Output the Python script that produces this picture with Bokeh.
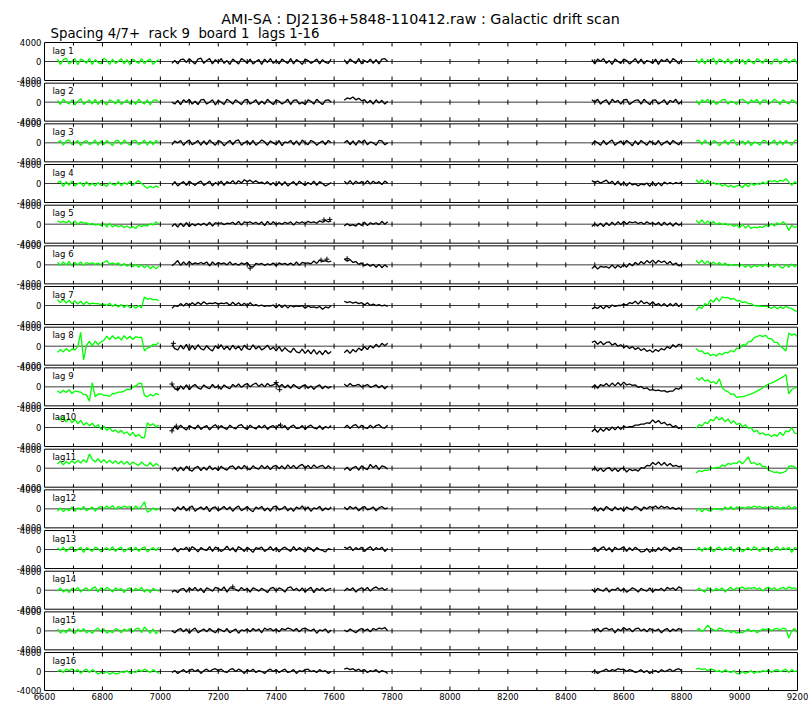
from bokeh.plotting import figure
from bokeh.models import Range1d, Label
from bokeh.core.properties import value
from bokeh.embed import file_html
from bokeh.resources import INLINE

# AMI-SA galactic drift scan, rack 9 board 1: one trace per lag.
# Samples are listed in units of 100, every 10 units along the scan axis.
SCALE = 100
STEP = 10
SEG_START = [6645, 7040, 7635, 8490, 8850]
SEG_GREEN = [True, False, False, False, True]

TITLE = "AMI-SA : DJ2136+5848-110412.raw : Galactic drift scan"
SUBTITLE = "Spacing 4/7+\u00a0 rack 9\u00a0 board 1\u00a0 lags 1-16"
X_LABEL_TICKS = [6600, 6800, 7000, 7200, 7400, 7600, 7800, 8000, 8200, 8400, 8600, 8800, 9000, 9200]
Y_LABEL_VALUES = [4000, 0, -4000]

lag1_a = [5,-6,4,7,-5,0,6,-7,5,2,-4,6,-6,4,-2,-5,7,2,-6,5,-4,0,6,-5,4,-7,5,0,-4,6,-5,2,5,-6,0,4]
lag1_b = [-4,2,-5,4,5,-2,6,0,-5,5,7,-4,2,6,-5,4,-2,6,-4,2,-6,5,0,-5,6,2,-4,5,-5,0,4,-6,5,-2,6,-4,2,-5,5,0,-4,6,-5,4,0,-6,5,2,-4,0,5,-5,4,-2,-4,5]
lag1_c = [4,-5,5,0,-4,6,-5,2,-2,5,-4,4,-5,5,6,0]
lag1_d = [4,-5,5,0,6,-4,2,-6,5,0,-4,5,2,-5,0,6,-4,5,-5,2,0,-4,5,-6,4,0,5,-4,6,2,-5,4]
lag1_e = [5,-4,6,-5,4,0,7,-6,5,2,-4,6,-5,0,5,-4,4,-6,5,0,-5,6,2,-4,5,0,-6,4,5,-5,0,6,-4,2,5,-6]

lag2_a = [4,-5,6,0,-4,5,-6,2,7,-5,0,5,-4,6,-5,4,0,-6,5,2,-4,6,-5,0,5,-4,2,-5,6,0,-4,5,-6,4,5,0]
lag2_b = [0,-4,4,-5,5,0,6,-4,2,-5,5,6,-4,0,5,-6,4,0,-5,6,2,-4,5,0,-5,4,6,-4,0,5,-5,2,-4,6,0,-5,5,2,-4,0,6,-5,4,5,-4,0,-5,5,2,-4,6,0,-5,4,5,0]
lag2_c = [4,9,7,11,5,8,3,5,-2,4,-4,5,-2,4,-4,2]
lag2_d = [5,0,6,-4,2,5,-5,6,0,4,-4,5,6,-5,0,4,5,-4,6,0,-5,4,5,-4,0,5,-5,4,0,6,-4,2]
lag2_e = [4,-5,5,0,6,-4,4,-5,0,5,6,-4,2,0,-5,5,6,2,-4,5,0,6,-5,4,5,-4,0,6,2,-5,5,0,-4,5,2,-5]

lag3_a = [0,5,-5,4,6,-4,0,5,-6,2,5,-4,0,6,-5,4,-4,5,0,-6,4,5,-4,6,0,-5,4,5,-4,0,6,-5,4,-4,5,0]
lag3_b = [-4,4,0,5,-5,2,6,-4,0,5,-5,4,-4,6,0,-5,5,2,-6,0,5,-4,4,6,-5,0,4,-4,5,-5,0,6,2,-5,4,0,-4,5,-6,2,0,5,-4,4,-5,6,0,-4,5,2,-5,0,4,-4,5,0]
lag3_c = [0,5,-4,4,-5,5,0,6,-4,2,0,-5,5,4,-4,0]
lag3_d = [-4,4,0,-5,5,-4,2,6,-5,0,4,-4,5,0,-6,4,-4,5,0,-5,4,0,-4,5,-5,0,4,-4,5,0,-4,4]
lag3_e = [4,5,-4,6,0,-5,5,2,-6,0,5,-4,4,6,-5,0,4,-4,5,-6,2,0,-5,5,4,-4,0,6,-5,4,-4,5,0,-5,4,6]

lag4_a = [2,5,-6,4,-4,5,-5,0,2,-6,4,-4,0,-5,2,-4,-2,-6,2,-2,-4,4,-5,2,-2,5,-4,2,6,0,-5,-10,-6,-9,-5,-8]
lag4_b = [-4,4,-5,0,4,-4,5,0,-4,2,5,-4,0,5,-5,2,-2,5,-4,4,0,6,-1,6,1,8,4,7,2,6,1,3,-1,4,-3,2,-5,4,-4,4,-5,0,4,-4,5,0,-4,2,-2,5,-4,4,0,-5,-2,2]
lag4_c = [5,-1,6,-2,5,0,4,-1,6,-1,5,0,4,-2,5,1]
lag4_d = [6,2,5,1,4,7,0,5,-3,5,-4,3,-5,2,-3,-1,-5,-1,-3,1,-6,3,-5,2,-5,3,-1,2,-1,2,0,3]
lag4_e = [8,1,8,0,7,-2,2,-2,0,-5,-2,-7,-4,-8,-5,-3,-9,-1,-7,1,-4,0,-2,3,-1,6,4,6,3,7,5,10,3,-4,4,-1]

lag5_a = [7,4,6,3,7,0,7,-1,5,2,3,-1,2,-2,0,-3,1,-6,2,-6,-2,-5,-3,-7,-4,-8,-5,-9,-2,-5,-2,-4,1,-2,5,0]
lag5_b = [-5,1,-6,2,-5,3,-5,1,-3,1,-2,2,-3,4,-4,3,1,3,-1,2,1,4,-1,6,-2,5,3,5,1,4,0,5,-3,6,-1,5,-1,3,0,4,1,5,-2,5,2,5,1,6,3,5,2,7,4,8,5,7]
lag5_c = [-4,1,-3,-1,-4,2,-3,4,-3,3,0,3,-1,6,0,5]
lag5_d = [-5,1,-4,2,-5,3,-3,4,-2,5,-1,6,0,5,3,5,1,4,0,5,1,3,-1,4,-3,4,-2,3,-4,3,-2,1]
lag5_e = [8,2,9,1,7,0,6,-1,3,-1,2,-2,0,-5,-1,-8,0,-8,-3,-9,-6,-8,-5,-7,-2,-5,1,-4,3,-1,5,0,-13,-2,-7,-4]

lag6_a = [5,-1,6,0,7,-2,5,0,6,-1,5,2,4,1,4,0,5,9,1,4,1,4,-2,3,-3,2,-4,1,-5,0,-6,-1,-8,-3,-8,-3]
lag6_b = [-2,3,9,-1,6,0,7,1,4,2,5,2,6,-2,6,0,5,2,4,0,6,0,3,-1,4,1,5,-3,-5,3,1,3,-1,2,0,4,-2,4,1,3,0,4,-1,6,-1,5,3,4,2,8,3,10,7,9,6,8]
lag6_c = [12,8,11,5,7,1,4,-2,2,-3,1,-5,1,-6,0,-5]
lag6_d = [-8,-2,-9,-3,-5,-4,-7,0,-7,-1,-6,1,-5,3,-2,5,0,7,2,9,4,10,3,9,5,8,2,7,0,4,-2,1]
lag6_e = [9,3,10,2,8,1,6,0,5,-1,4,-2,1,-1,0,-2,1,-5,0,-6,-1,-4,0,-4,2,-4,1,-5,2,-4,-7,1,-5,2,-4,1]

lag7_a = [12,6,13,5,11,4,10,3,9,2,8,3,5,4,4,2,3,0,5,-2,3,-3,2,-4,1,-5,0,-6,0,-5,18,13,15,12,13,10]
lag7_b = [-6,0,-2,4,-1,5,0,6,1,7,2,8,3,5,4,6,3,5,4,6,0,7,1,6,0,5,-1,6,0,2,-1,1,-2,0,-1,1,-5,2,-4,1,-5,0,-3,-1,-2,0,-6,-1,-4,-3,-5,-2,-8,-3,-5,0]
lag7_c = [9,6,8,5,7,4,6,1,6,0,3,0,2,-1,1,-2]
lag7_d = [-7,-4,-6,-1,-7,0,-5,1,-2,0,0,3,1,6,4,9,3,10,4,7,2,8,1,4,-1,4,-2,4,-1,5,-2,3]
lag7_e = [-10,-3,-6,4,1,12,7,16,9,18,16,17,13,15,10,10,6,8,4,4,0,-1,-1,-2,-2,-3,-6,-2,-7,-3,-6,-2,-5,-6,-11,-12]

lag8_a = [-13,-7,-12,-5,-11,-6,-8,-1,29,-29,2,10,0,11,3,9,12,21,14,22,15,20,13,22,15,21,14,20,18,19,-10,-4,-2,4,3,8]
lag8_b = [3,-5,-8,2,-6,4,-9,1,-7,3,-5,-8,1,-6,-10,1,-5,3,-7,0,-8,2,-6,0,-9,2,-5,-7,3,-6,0,-8,-4,2,-7,-2,-10,-1,-11,-3,-9,-13,-4,-12,-14,-6,-15,-8,-16,-7,-17,-10,-18,-9,-16,-11]
lag8_c = [-14,-8,-15,-7,-12,-4,-9,-1,-7,1,-4,4,-2,6,1,6]
lag8_d = [8,11,4,10,3,8,9,2,6,0,3,-3,1,-5,-1,-7,-3,-9,-5,-11,-8,-13,-7,-11,-5,-8,-1,-5,3,-2,4,1]
lag8_e = [-5,-11,-10,-16,-14,-20,-17,-21,-15,-18,-13,-14,-9,-12,-4,-5,3,2,9,10,18,20,23,20,23,16,16,8,8,0,-4,-10,28,23,26,20]

lag9_a = [-8,-13,-7,-12,-6,-14,-9,-10,-11,-16,-17,-30,9,-21,-15,-15,-18,-18,-20,-14,-14,-11,-11,-9,-5,-6,0,2,7,8,-18,-21,-16,-19,-14,-17]
lag9_b = [5,-4,-7,2,-5,4,-6,1,5,-2,-5,4,-1,-4,5,-2,2,-5,4,-1,-4,5,0,6,-1,4,7,0,5,8,1,6,0,7,2,4,8,0,5,-2,4,-3,5,0,-4,2,4,-3,2,-5,1,4,-4,2,-3,1]
lag9_c = [6,1,7,2,3,5,0,2,5,-1,1,4,-2,3,-4,2]
lag9_d = [-2,4,-3,5,2,7,1,8,2,9,3,10,4,6,3,4,-1,1,-4,-2,-7,-6,-8,-7,-9,-8,-11,-9,-9,-3,-5,1]
lag9_e = [19,14,20,12,15,9,11,6,17,-2,-8,-10,-16,-15,-22,-21,-21,-19,-17,-15,-12,-9,-6,-2,2,6,8,11,14,18,21,26,-15,-6,-2,-1]

lag10_a = [22,15,23,12,19,10,17,8,15,5,10,4,9,1,6,-4,3,-6,-1,-8,-5,-11,-6,-13,-9,-17,-10,-19,-14,-21,-22,10,4,8,1,5]
lag10_b = [-6,2,-4,5,-1,-5,4,0,-3,5,-4,1,4,-5,2,6,-2,4,-1,-4,5,0,-3,4,6,-1,-4,5,0,-3,4,-1,5,-4,2,4,-2,6,-1,4,-5,2,5,-2,-1,4,-4,2,5,-1,-3,4,-4,2,-1,4]
lag10_c = [-1,5,-2,4,6,-1,5,0,-2,5,-1,4,6,0,-1,5]
lag10_d = [-9,-3,-10,-2,-8,-1,-6,1,-5,2,-4,3,0,2,2,5,5,7,7,10,9,16,10,15,8,11,5,7,1,4,-2,1]
lag10_e = [-2,6,3,11,8,17,14,23,16,21,12,18,9,14,6,9,2,6,-2,0,-9,-6,-14,-11,-16,-14,-19,-15,-18,-10,-17,-7,-9,0,-12,-13]

lag11_a = [9,15,7,14,9,16,10,17,11,18,12,30,19,13,20,12,18,11,17,10,16,9,15,8,14,7,13,9,6,13,7,5,12,4,10,5]
lag11_b = [-4,2,-6,2,-5,4,-3,-6,1,4,-5,2,-4,5,-3,1,-5,4,-1,-4,3,5,-3,4,-2,6,-1,-3,5,0,-2,6,-1,5,-3,4,6,-1,5,-2,7,0,6,-1,5,8,0,6,-1,7,1,4,6,-1,5,0]
lag11_c = [-4,2,-5,1,4,-4,5,0,-3,8,1,6,-3,5,3,-2]
lag11_d = [-5,1,-6,0,-7,-1,1,-6,0,-7,-1,0,-8,-2,-5,-3,-6,1,0,6,5,12,7,13,6,12,5,10,4,6,3,5]
lag11_e = [-10,-5,-7,-4,-5,1,-1,2,1,7,4,10,8,11,10,15,9,16,24,10,12,7,10,3,4,-4,-6,-9,-8,-11,-9,-6,4,5,3,-4]

lag12_a = [-5,2,-6,0,-4,4,-5,2,-2,5,-4,0,4,-5,2,5,0,6,1,7,-1,5,2,6,3,5,-1,6,0,5,15,-7,-4,2,-3,1]
lag12_b = [0,-5,4,-2,5,-4,2,6,-5,0,4,-2,5,-6,2,4,-4,0,5,-2,4,-5,2,6,-4,0,5,-2,-6,4,0,5,-4,2,-5,4,6,-2,0,5,-4,2,-5,4,0,6,-2,4,-5,2,0,5,-4,2,-2,4]
lag12_c = [4,-2,5,0,4,-4,2,5,-2,0,4,-4,2,5,0,2]
lag12_d = [-2,4,-5,2,-4,5,0,-4,4,-2,2,-5,4,0,-2,5,2,-4,4,0,5,2,6,1,6,2,5,0,3,-1,2,-2]
lag12_e = [-5,1,-6,0,-3,-5,1,-1,0,-3,4,-1,5,-2,4,2,3,1,5,2,6,3,5,2,4,1,6,2,5,0,4,1,6,0,5,0]

lag13_a = [4,-2,5,-5,2,6,-4,0,5,-6,4,0,-4,5,2,-5,0,4,-2,6,-4,2,5,-5,0,4,-2,5,-4,2,6,-5,0,4,-2,5]
lag13_b = [-2,4,-5,2,0,5,-4,6,2,-5,4,0,-2,6,-4,5,2,-4,0,7,-2,4,-5,6,2,-4,5,0,-6,4,2,5,-4,0,6,-2,4,-5,2,5,0,-4,6,-2,4,0,-5,5,2,-4,4,0,-2,-5,2,0]
lag13_c = [5,2,6,-2,4,0,5,-4,2,6,-2,4,0,5,-4,2]
lag13_d = [0,5,-4,2,6,-2,4,-5,5,0,2,6,-4,4,-2,5,0,-5,-4,2,-6,0,-4,4,-2,5,2,-4,4,0,5,2]
lag13_e = [-2,5,-4,4,0,6,-5,2,5,-2,4,0,6,-4,2,5,-5,0,4,-2,6,2,-4,5,0,4,-5,2,6,-2,4,0,5,-6,4,2]

lag14_a = [-2,5,-4,2,-5,4,0,6,-4,2,5,-2,4,7,-4,5,0,6,2,-4,5,0,4,-5,2,5,-2,4,0,6,-4,2,-5,4,0,-2]
lag14_b = [-4,0,-5,2,4,-4,5,0,6,-2,4,-5,5,2,-2,6,4,0,7,-4,5,4,2,-2,6,0,4,-4,5,2,-2,4,0,-5,4,6,-2,5,2,-4,5,7,0,4,-2,5,-4,2,6,-5,4,0,5,-2,2,4]
lag14_c = [-2,4,0,5,-4,2,5,0,6,-2,4,7,2,5,0,4]
lag14_d = [2,-4,4,0,-2,5,-4,2,0,5,-2,4,-4,0,5,2,-4,4,0,-2,5,-4,2,0,4,-2,6,2,5,0,7,4]
lag14_e = [-2,4,0,-4,5,2,-2,4,0,5,-4,2,6,0,5,4,7,2,5,4,6,2,5,-2,4,6,2,5,0,4,6,2,7,4,5,2]

lag15_a = [4,-5,2,-4,5,0,-6,4,-2,5,-4,0,-5,2,6,-2,4,-5,0,-4,5,2,-4,4,0,5,-2,4,6,-4,8,2,-5,4,-6,0]
lag15_b = [0,-4,2,5,-2,4,-5,2,6,-4,0,4,-2,5,0,-4,4,2,-2,5,-4,0,4,-5,2,0,4,-2,5,0,4,-4,6,2,5,0,4,-2,5,2,6,4,0,5,-2,4,6,2,0,4,-5,2,0,4,-4,2]
lag15_c = [2,-2,4,0,-4,2,5,0,4,-2,5,2,6,4,7,0]
lag15_d = [4,0,5,-2,4,6,2,5,-4,4,0,7,2,5,-2,4,6,0,4,-2,5,2,0,4,-4,2,5,-2,4,0,5,2]
lag15_e = [0,5,-2,4,12,5,2,0,6,4,-2,2,-4,0,-5,-2,-4,0,4,-2,2,-4,0,4,2,5,0,4,5,2,6,4,-15,0,5,-4]

lag16_a = [0,4,-2,5,2,6,0,4,-4,2,5,-2,4,0,-5,-2,-4,0,-6,-2,-5,-4,0,-2,2,-4,0,-2,4,0,5,2,-2,4,0,-4]
lag16_b = [-2,2,-4,0,4,-2,2,5,0,4,-4,2,5,0,4,6,2,5,0,-2,4,6,0,5,2,-4,4,0,5,-2,2,0,-4,2,5,0,4,-2,2,5,-2,0,4,-4,2,0,4,5,0,2,-2,4,0,2,-4,0]
lag16_c = [5,7,4,6,2,5,0,4,-2,2,0,4,-2,2,0,-4]
lag16_d = [-2,2,-4,0,2,5,0,4,2,6,4,5,0,4,2,-2,0,4,-2,2,-4,0,2,-2,4,0,2,5,0,4,6,2]
lag16_e = [5,7,4,6,2,5,4,0,2,-2,4,0,-2,2,-4,-5,0,-4,-2,2,-4,0,-2,2,0,4,-2,2,4,0,2,5,-2,4,0,2]

# isolated samples, plotted as crosses: lag number, scan position, value (units of 100)
cross_lag = [5, 5, 6, 6, 6, 6, 8, 9, 9, 9, 9, 10, 10, 10, 14]
cross_x = [7565, 7585, 7310, 7555, 7575, 7645, 7045, 7040, 7060, 7400, 7412, 7040, 7055, 7415, 7250]
cross_val = [9, 10, -7, 10, 12, 13, 6, 6, -4, 9, -6, -7, 3, 5, 7]

lag_series = [
    [lag1_a, lag1_b, lag1_c, lag1_d, lag1_e],
    [lag2_a, lag2_b, lag2_c, lag2_d, lag2_e],
    [lag3_a, lag3_b, lag3_c, lag3_d, lag3_e],
    [lag4_a, lag4_b, lag4_c, lag4_d, lag4_e],
    [lag5_a, lag5_b, lag5_c, lag5_d, lag5_e],
    [lag6_a, lag6_b, lag6_c, lag6_d, lag6_e],
    [lag7_a, lag7_b, lag7_c, lag7_d, lag7_e],
    [lag8_a, lag8_b, lag8_c, lag8_d, lag8_e],
    [lag9_a, lag9_b, lag9_c, lag9_d, lag9_e],
    [lag10_a, lag10_b, lag10_c, lag10_d, lag10_e],
    [lag11_a, lag11_b, lag11_c, lag11_d, lag11_e],
    [lag12_a, lag12_b, lag12_c, lag12_d, lag12_e],
    [lag13_a, lag13_b, lag13_c, lag13_d, lag13_e],
    [lag14_a, lag14_b, lag14_c, lag14_d, lag14_e],
    [lag15_a, lag15_b, lag15_c, lag15_d, lag15_e],
    [lag16_a, lag16_b, lag16_c, lag16_d, lag16_e],
]
lag_names = [("lag %d" % n) if n < 10 else ("lag%d" % n) for n in range(1, len(lag_series) + 1)]

# ---- layout: the frame fills the whole page; panels, labels and headings are drawn in it ----
FONT = "DejaVu Sans"
GREEN = "#00ff00"
W, H = 808, 704
N = len(lag_series)
X0, X1 = 6600, 9200
Y_LIM = 4000
LEFT_PX = 44         # page x of the scan start
TOP_PX = 42          # page y of the top of the first panel
PANEL_PX = 38.0      # panel height in pixels
PITCH_PX = 40.67     # distance between panel centres in pixels
FRAME_W_PX = 753     # width of the scan axis in pixels
UPP = 2 * Y_LIM / PANEL_PX          # data units per pixel (vertical)
XUPP = (X1 - X0) / FRAME_W_PX       # data units per pixel (horizontal)
PITCH = int(round(PITCH_PX * UPP))
offsets = [-k * PITCH for k in range(N)]


def px_x(px):
    return X0 + (px - LEFT_PX) * XUPP


def px_y(py):
    return Y_LIM - (py - TOP_PX) * UPP


p = figure(
    frame_width=W, frame_height=H, min_border=0,
    x_range=Range1d(px_x(0), px_x(W)), y_range=Range1d(px_y(H), px_y(0)),
    output_backend="svg", toolbar_location=None,
)
p.grid.visible = False
p.axis.visible = False
p.outline_line_color = None
p.background_fill_color = "white"
p.border_fill_color = "white"

# zero lines
p.multi_line([[X0, X1] for _ in offsets], [[c, c] for c in offsets],
             line_color="#3a3a3a", line_width=1)

# traces
g_xs, g_ys, k_xs, k_ys = [], [], [], []
for k, segs in enumerate(lag_series):
    for s, vals in enumerate(segs):
        xs = [SEG_START[s] + STEP * i for i in range(len(vals))]
        ys = [v * SCALE + offsets[k] for v in vals]
        if SEG_GREEN[s]:
            g_xs.append(xs); g_ys.append(ys)
        else:
            k_xs.append(xs); k_ys.append(ys)
p.multi_line(k_xs, k_ys, line_color="black", line_width=1.3)
p.multi_line(g_xs, g_ys, line_color=GREEN, line_width=1.3)

p.scatter(cross_x,
          [v * SCALE + offsets[n - 1] for n, v in zip(cross_lag, cross_val)],
          marker="cross", size=5, line_color="black", line_width=1)

# panel boxes
p.quad(left=[X0] * N, right=[X1] * N,
       top=[c + Y_LIM for c in offsets], bottom=[c - Y_LIM for c in offsets],
       fill_color=None, line_color="black", line_width=1)

# inward ticks on each panel edge, crossing ticks on each zero line
tx, ty0, ty1 = [], [], []
for c in offsets:
    for t in range(X0 + 100, X1, 100):
        L = (4 if (t - X0) % 200 == 0 else 3) * UPP
        top, bot = c + Y_LIM, c - Y_LIM
        tx += [t, t, t]
        ty0 += [top, bot, c - 2.5 * UPP]
        ty1 += [top - L, bot + L, c + 2.5 * UPP]
p.segment(x0=tx, y0=ty0, x1=tx, y1=ty1, line_color="black", line_width=1)

# scan-axis labels under the last panel
bottom = offsets[-1] - Y_LIM
p.text(x=X_LABEL_TICKS, y=[bottom - 5.5 * UPP] * len(X_LABEL_TICKS),
       text=[str(t) for t in X_LABEL_TICKS],
       text_align="center", text_baseline="middle",
       text_font=value(FONT), text_font_size="8.5px", text_color="black")

# value labels at the left of every panel
yl_y, yl_t = [], []
for c in offsets:
    for v in Y_LABEL_VALUES:
        yl_y.append(c + v)
        yl_t.append(str(v))
p.text(x=[X0 - 3 * XUPP] * len(yl_y), y=yl_y, text=yl_t,
       text_align="right", text_baseline="middle",
       text_font=value(FONT), text_font_size="8.5px", text_color="black")

# lag names
p.text(x=[X0 + 8 * XUPP] * N, y=[c + Y_LIM - 3 * UPP for c in offsets], text=lag_names,
       text_align="left", text_baseline="top",
       text_font=value(FONT), text_font_size="8.5px", text_color="black")

# title and subtitle
p.add_layout(Label(x=px_x(420), y=px_y(18), text=TITLE,
                   text_align="center", text_baseline="middle",
                   text_font=FONT, text_font_size="14.3px", text_color="black"))
p.add_layout(Label(x=px_x(50), y=px_y(33), text=SUBTITLE,
                   text_align="left", text_baseline="middle",
                   text_font=FONT, text_font_size="13.3px", text_color="black"))

open("out.html", "w").write(file_html(p, INLINE))
